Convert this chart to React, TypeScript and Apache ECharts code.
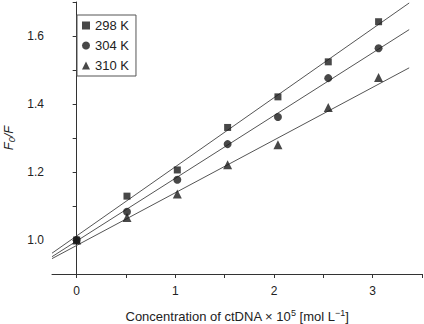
import React, { useEffect, useRef } from "react";
import * as echarts from "echarts";

const concentrations = [0, 0.51, 1.02, 1.53, 2.04, 2.55, 3.06];
const series298 = [1.0, 1.129, 1.206, 1.331, 1.421, 1.524, 1.642];
const series304 = [1.0, 1.083, 1.177, 1.282, 1.362, 1.476, 1.564];
const series310 = [1.0, 1.066, 1.135, 1.221, 1.28, 1.39, 1.478];
const seriesNames = ["298 K", "304 K", "310 K"];
const fitSlopes = [0.2033, 0.1845, 0.155];
const fitIntercepts = [1.012, 0.997, 0.984];
const fitRange = [-0.25, 3.37];
const xTickValues = [0, 0.5, 1, 1.5, 2, 2.5, 3, 3.5];
const xLabelValues = [0, 1, 2, 3];
const yTickValues = [1.0, 1.1, 1.2, 1.3, 1.4, 1.5, 1.6, 1.7];
const yLabelValues = [1.0, 1.2, 1.4, 1.6];

export default function App() {
  const ref = useRef<HTMLDivElement>(null);
  useEffect(() => {
    if (!ref.current) return;
    const chart = echarts.init(ref.current, null, { renderer: "svg" });
    const allSeries = [series298, series304, series310];
    const symbols = ["rect", "circle", "triangle"];
    const sizes = [7, 8, 9];
    const font = "'Liberation Sans', Arial, sans-serif";
    const scatter = allSeries.map((vals, i) => ({
      name: seriesNames[i],
      type: "scatter",
      symbol: symbols[i],
      symbolSize: sizes[i],
      itemStyle: { color: "#1a1a1a" },
      data: concentrations.map((c, j) => [c, vals[j]]),
      z: 3,
    }));
    const fits = fitSlopes.map((s, i) => ({
      name: "fit" + i,
      type: "line",
      symbol: "none",
      lineStyle: { color: "#555", width: 1 },
      data: fitRange.map((x) => [x, fitIntercepts[i] + s * x]),
      z: 2,
    }));
    chart.setOption({
      animation: false,
      grid: { left: 52, right: 2, top: 2, bottom: 50, outerBoundsMode: "none", containLabel: false },
      legend: {
        data: seriesNames,
        orient: "vertical",
        left: 77,
        top: 15,
        itemWidth: 8,
        itemHeight: 8,
        itemGap: 7,
        padding: [4, 7, 4, 5],
        borderColor: "#555",
        borderWidth: 1,
        textStyle: { fontFamily: font, fontSize: 13, color: "#222", lineHeight: 13 },
      },
      xAxis: {
        type: "value",
        min: -0.25,
        max: 3.5,
        name: "Concentration of ctDNA × 10{sup|5} [mol L{sup|−1}]",
        nameLocation: "middle",
        nameGap: 34,
        nameTextStyle: {
          fontFamily: font,
          fontSize: 13,
          color: "#222",
          rich: { sup: { fontFamily: font, fontSize: 9, color: "#222", padding: [0, 0, 7, 0] } },
        },
        splitLine: { show: false },
        axisLine: { lineStyle: { color: "#333", width: 1 } },
        axisTick: { customValues: xTickValues, length: 4, lineStyle: { color: "#333" } },
        axisLabel: {
          customValues: xLabelValues,
          fontFamily: font,
          fontSize: 12,
          color: "#222",
          margin: 11,
        },
      },
      yAxis: {
        type: "value",
        min: 0.9,
        max: 1.7,
        name: "F{sub|0}/F",
        nameLocation: "middle",
        nameGap: 34,
        nameTextStyle: {
          fontFamily: font,
          fontSize: 13,
          color: "#222",
          fontStyle: "italic",
          rich: { sub: { fontFamily: font, fontSize: 9, color: "#222", fontStyle: "italic", padding: [7, 0, 0, 0] } },
        },
        splitLine: { show: false },
        axisLine: { show: true, lineStyle: { color: "#333", width: 1 } },
        axisTick: { show: true, customValues: yTickValues, length: 4, lineStyle: { color: "#333" } },
        axisLabel: {
          customValues: yLabelValues,
          fontFamily: font,
          fontSize: 12,
          color: "#222",
          margin: 8,
          formatter: (v: number) => v.toFixed(1),
        },
      },
      series: [...fits, ...scatter],
    });
    return () => chart.dispose();
  }, []);
  return <div ref={ref} style={{ width: 424, height: 324, position: "absolute", left: 0, top: 0 }} />;
}
